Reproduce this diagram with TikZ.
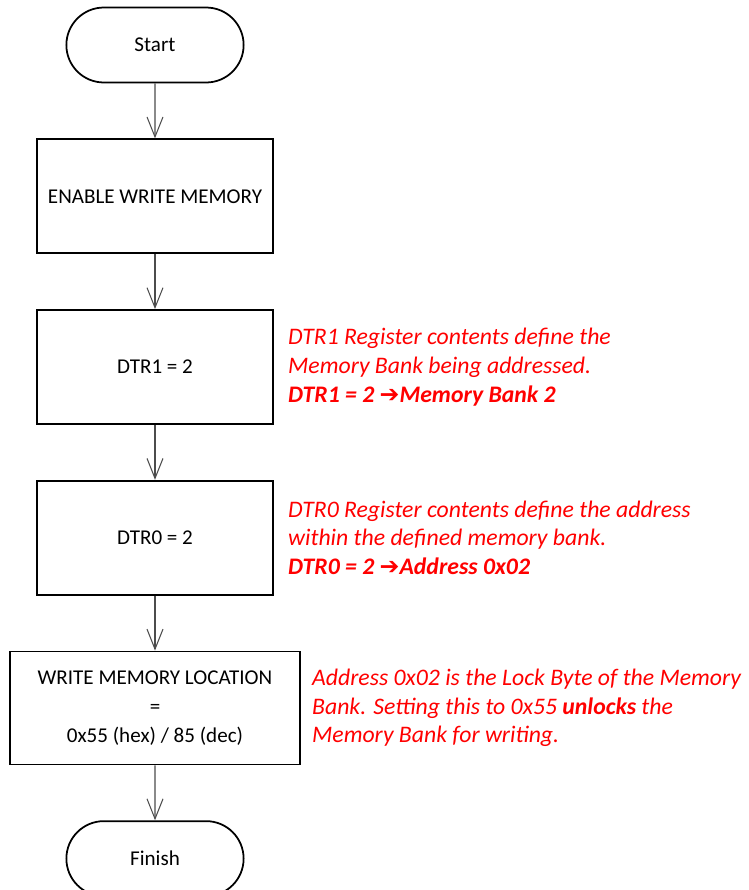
\documentclass[tikz,border=0pt]{standalone}
\usepackage{fontspec}
\setmainfont{Carlito}
\newfontfamily\symfont{DejaVu Sans}
\usetikzlibrary{shapes.misc, arrows.meta, positioning}

\begin{document}
\begin{tikzpicture}[x=0.02cm, y=-0.02cm, node distance=1.1cm,
    >={Straight Barb[length=0.4cm, width=0.32cm]},
    font=\fontsize{12}{16.4}\selectfont,
    term/.style={draw, line width=1pt, rounded rectangle, minimum width=3.78cm, minimum height=1.5cm},
    stepbox/.style={draw, line width=1pt, minimum width=4.72cm, minimum height=2.28cm, align=center},
    note/.style={text=red, font=\fontsize{13.5}{16.4}\selectfont\itshape, align=left, inner sep=0pt},
    flow/.style={->, draw=black!70, line width=0.6pt}]
    \useasboundingbox (0,0) rectangle (749,890);

    % Start
    \node [term] (start) at (155,45) {Start};

    % Steps
    \node [stepbox, below=of start] (en_wr) {ENABLE WRITE MEMORY};
    \node [stepbox, below=of en_wr] (dtr1) {DTR1 = 2};
    \node [stepbox, below=of dtr1] (dtr0) {DTR0 = 2};
    \node [stepbox, minimum width=5.8cm, minimum height=2.26cm, below=of dtr0] (wr_loc)
        {WRITE MEMORY LOCATION\\=\\0x55 (hex) / 85 (dec)};

    % Finish
    \node [term, below=of wr_loc] (finish) {Finish};

    % Notes
    \node [note, right=0.28cm of dtr1] (note_dtr1)
        {DTR1 Register contents define the\\Memory Bank being addressed.\\
         \textbf{DTR1 = 2 {\symfont\bfseries\upshape ➔}Memory Bank 2}};
    \node [note, right=0.28cm of dtr0] (note_dtr0)
        {DTR0 Register contents define the address\\within the defined memory bank.\\
         \textbf{DTR0 = 2 {\symfont\bfseries\upshape ➔}Address 0x02}};
    \node [note, right=0.22cm of wr_loc] (note_wr)
        {Address 0x02 is the Lock Byte of the Memory\\
         Bank. Setting this to 0x55 \textbf{unlocks} the\\Memory Bank for writing.};

    % Connections
    \draw [flow] (start) -- (en_wr);
    \draw [flow] (en_wr) -- (dtr1);
    \draw [flow] (dtr1) -- (dtr0);
    \draw [flow] (dtr0) -- (wr_loc);
    \draw [flow] (wr_loc) -- (finish);

\end{tikzpicture}
\end{document}
